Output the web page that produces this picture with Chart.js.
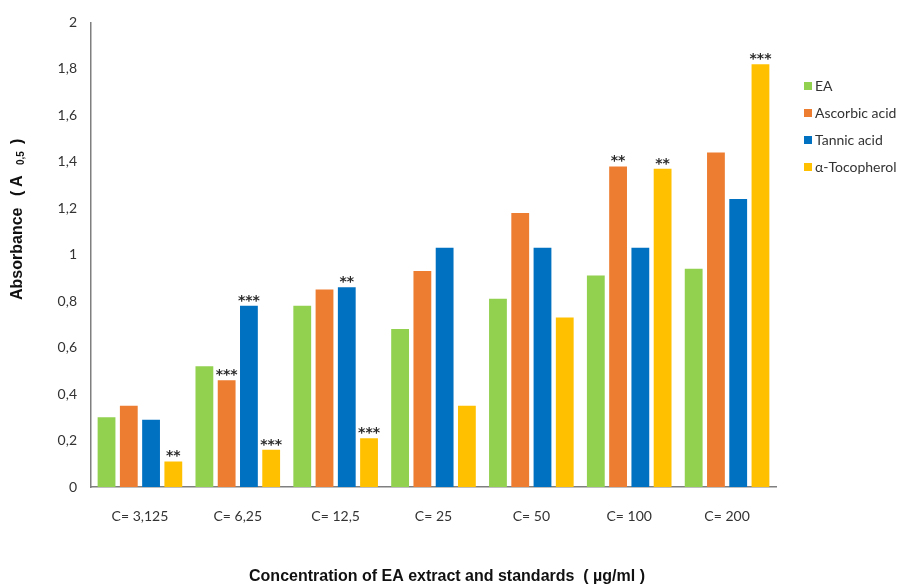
<!DOCTYPE html>
<html>
<head>
<meta charset="utf-8">
<script src="https://cdn.jsdelivr.net/npm/chart.js@4/dist/chart.umd.min.js"></script>
<style>
  html, body { margin: 0; padding: 0; background: #ffffff; }
  #wrap { width: 904px; height: 587px; }
</style>
</head>
<body>
<div id="wrap"><canvas id="chart" width="904" height="587"></canvas></div>
<script>
// Concentrations tested
const categories = ['C= 3,125', 'C= 6,25', 'C= 12,5', 'C= 25', 'C= 50', 'C= 100', 'C= 200'];

// Absorbance readings per sample
const eaValues         = [0.30, 0.52, 0.78, 0.68, 0.81, 0.91, 0.94];
const ascorbicValues   = [0.35, 0.46, 0.85, 0.93, 1.18, 1.38, 1.44];
const tannicValues     = [0.29, 0.78, 0.86, 1.03, 1.03, 1.03, 1.24];
const tocopherolValues = [0.11, 0.16, 0.21, 0.35, 0.73, 1.37, 1.82];

// Significance marks shown above each bar
const eaStars         = ['', '', '', '', '', '', ''];
const ascorbicStars   = ['', '***', '', '', '', '**', ''];
const tannicStars     = ['', '***', '**', '', '', '', ''];
const tocopherolStars = ['**', '***', '***', '', '', '**', '***'];

// Y axis tick labels (decimal comma)
const yTickLabels = ['0', '0,2', '0,4', '0,6', '0,8', '1', '1,2', '1,4', '1,6', '1,8', '2'];

const seriesNames = ['EA', 'Ascorbic acid', 'Tannic acid', '\u03B1-Tocopherol'];
const seriesColors = ['#92D050', '#ED7D31', '#0070C0', '#FFC000'];

const TICK_FONT = 'Lato, "Open Sans", sans-serif';
const TITLE_FONT = '"Liberation Sans", Arial, sans-serif';

const starsPlugin = {
  id: 'starsPlugin',
  afterDatasetsDraw(chart) {
    const ctx = chart.ctx;
    ctx.save();
    ctx.fillStyle = '#2a2a2a';
    ctx.font = 'bold 14px "DejaVu Sans", sans-serif';
    ctx.textAlign = 'center';
    ctx.textBaseline = 'alphabetic';
    chart.data.datasets.forEach((ds, i) => {
      const meta = chart.getDatasetMeta(i);
      meta.data.forEach((bar, j) => {
        const s = ds.stars[j];
        if (s) ctx.fillText(s, bar.x, bar.y - 1);
      });
    });
    ctx.restore();
  }
};

const legendPlugin = {
  id: 'sideLegend',
  afterDraw(chart) {
    const ctx = chart.ctx;
    ctx.save();
    ctx.font = '14px ' + TICK_FONT;
    ctx.textBaseline = 'middle';
    ctx.textAlign = 'left';
    const rowY = [86, 113, 140, 167];
    chart.data.datasets.forEach((ds, i) => {
      ctx.fillStyle = ds.backgroundColor;
      ctx.fillRect(804, rowY[i] - 4, 8, 8);
      ctx.fillStyle = '#333333';
      ctx.fillText(ds.label, 815, rowY[i]);
    });
    ctx.restore();
  }
};

const axisTitlesPlugin = {
  id: 'axisTitles',
  afterDraw(chart) {
    const ctx = chart.ctx;
    ctx.save();
    ctx.fillStyle = '#111111';
    // horizontal title
    ctx.font = 'bold 16px ' + TITLE_FONT;
    ctx.textAlign = 'center';
    ctx.textBaseline = 'middle';
    ctx.fillText('Concentration of EA extract and standards  ( \u00B5g/ml )', 447, 577);
    // vertical title with subscript, laid out piece by piece
    const big = 'bold 16px ' + TITLE_FONT;
    const small = 'bold 10px ' + TITLE_FONT;
    ctx.translate(18, 0);
    ctx.rotate(-Math.PI / 2);
    ctx.textAlign = 'left';
    ctx.textBaseline = 'middle';
    ctx.font = big;
    ctx.fillText('Absorbance', -300, 0);
    ctx.fillText('(', -196, 0);
    ctx.fillText('A', -187, 0);
    ctx.font = small;
    ctx.fillText('0,5', -165, 3);
    ctx.font = big;
    ctx.fillText(')', -144, 0);
    ctx.restore();
  }
};

const valueLists = [eaValues, ascorbicValues, tannicValues, tocopherolValues];
const starLists = [eaStars, ascorbicStars, tannicStars, tocopherolStars];

new Chart(document.getElementById('chart'), {
  type: 'bar',
  data: {
    labels: categories,
    datasets: valueLists.map((vals, i) => ({
      label: seriesNames[i],
      data: vals,
      stars: starLists[i],
      backgroundColor: seriesColors[i],
      borderWidth: 0,
      categoryPercentage: 0.91,
      barPercentage: 0.8
    }))
  },
  options: {
    responsive: false,
    animation: false,
    devicePixelRatio: 1,
    layout: { padding: { top: 20, right: 128, bottom: 0, left: 0 } },
    plugins: {
      legend: { display: false },
      tooltip: { enabled: false }
    },
    scales: {
      x: {
        grid: { display: false, drawTicks: false },
        border: { display: true, color: '#7f7f7f', width: 1.5 },
        ticks: { color: '#333333', font: { family: TICK_FONT, size: 14 }, padding: 21 },
        afterFit(scale) { scale.height = 100; }
      },
      y: {
        min: 0,
        max: 2,
        grid: { display: false, drawTicks: false },
        border: { display: true, color: '#7f7f7f', width: 1.5 },
        ticks: {
          stepSize: 0.2,
          color: '#333333',
          font: { family: TICK_FONT, size: 14 },
          padding: 14,
          callback: (v, idx) => yTickLabels[idx]
        },
        afterFit(scale) { scale.width = 91; }
      }
    }
  },
  plugins: [starsPlugin, legendPlugin, axisTitlesPlugin]
});
</script>
</body>
</html>
